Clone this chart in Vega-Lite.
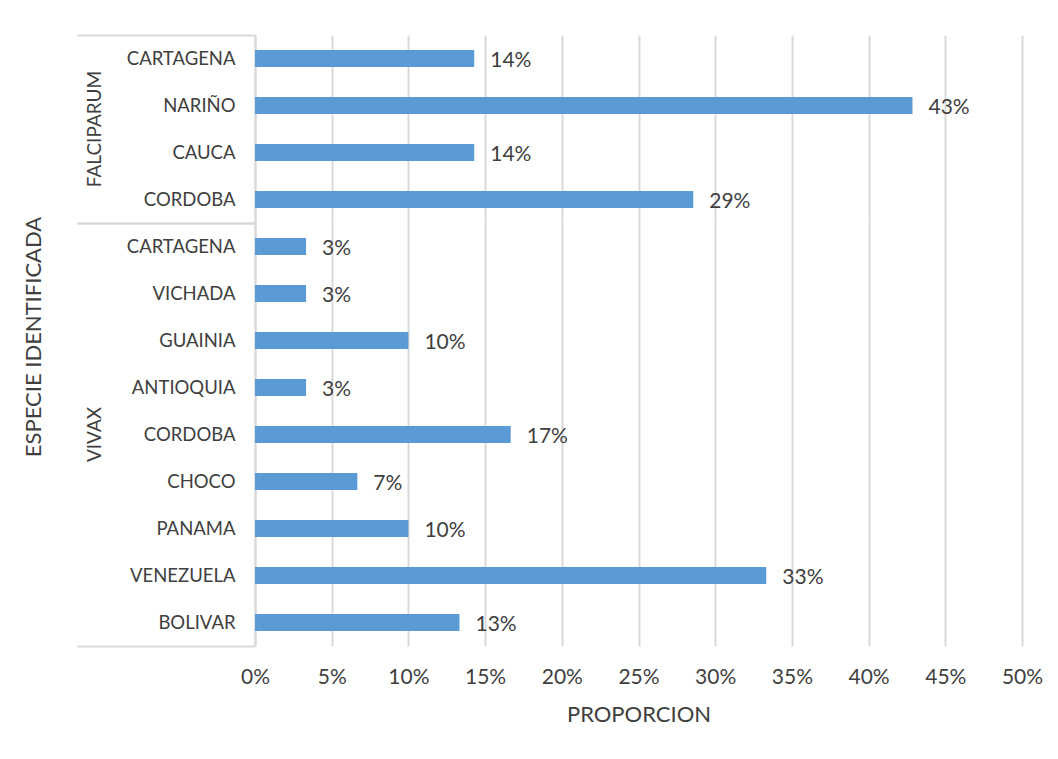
{
  "$schema": "https://vega.github.io/schema/vega-lite/v6.json",
  "padding": {"left": 22, "top": 26, "right": 10, "bottom": 10},
  "background": "white",
  "config": {
    "view": {"stroke": null},
    "font": "Lato"
  },
  "data": {"values": [
    {"especie": "FALCIPARUM", "lugar": "CARTAGENA", "orden": 1, "valor": 0.1429},
    {"especie": "FALCIPARUM", "lugar": "NARIÑO", "orden": 2, "valor": 0.4286},
    {"especie": "FALCIPARUM", "lugar": "CAUCA", "orden": 3, "valor": 0.1429},
    {"especie": "FALCIPARUM", "lugar": "CORDOBA", "orden": 4, "valor": 0.2857},
    {"especie": "VIVAX", "lugar": "CARTAGENA", "orden": 5, "valor": 0.0333},
    {"especie": "VIVAX", "lugar": "VICHADA", "orden": 6, "valor": 0.0333},
    {"especie": "VIVAX", "lugar": "GUAINIA", "orden": 7, "valor": 0.1},
    {"especie": "VIVAX", "lugar": "ANTIOQUIA", "orden": 8, "valor": 0.0333},
    {"especie": "VIVAX", "lugar": "CORDOBA", "orden": 9, "valor": 0.1667},
    {"especie": "VIVAX", "lugar": "CHOCO", "orden": 10, "valor": 0.0667},
    {"especie": "VIVAX", "lugar": "PANAMA", "orden": 11, "valor": 0.1},
    {"especie": "VIVAX", "lugar": "VENEZUELA", "orden": 12, "valor": 0.3333},
    {"especie": "VIVAX", "lugar": "BOLIVAR", "orden": 13, "valor": 0.1333}
  ]},
  "facet": {
    "row": {
      "field": "especie",
      "type": "nominal",
      "sort": ["FALCIPARUM", "VIVAX"],
      "title": "ESPECIE IDENTIFICADA",
      "header": {
        "labelOrient": "left",
        "labelAngle": -90,
        "labelFont": "Lato",
        "labelFontSize": 19,
        "labelColor": "#404040",
        "labelPadding": 141,
        "titleOrient": "left",
        "titleAngle": -90,
        "titleFont": "Lato",
        "titleFontSize": 22,
        "titleFontWeight": "normal",
        "titleColor": "#404040",
        "titlePadding": 8
      }
    }
  },
  "spacing": 0,
  "bounds": "flush",
  "resolve": {"scale": {"y": "independent"}},
  "spec": {
    "width": 767,
    "height": {"step": 47},
    "encoding": {
      "y": {
        "field": "lugar",
        "type": "nominal",
        "sort": {"field": "orden"},
        "title": null,
        "scale": {"paddingInner": 0, "paddingOuter": 0},
        "axis": {
          "labelFont": "Lato",
          "labelFontSize": 18.5,
          "labelColor": "#404040",
          "domainColor": "#d9d9d9",
          "domainWidth": 2,
          "tickBand": "extent",
          "tickSize": 178,
          "tickWidth": 2,
          "tickColor": "#d9d9d9",
          "tickOpacity": {"condition": {"test": "datum.index === -1 || datum.index === 1", "value": 1}, "value": 0},
          "labelPadding": -158,
          "grid": false
        }
      },
      "x": {
        "field": "valor",
        "type": "quantitative",
        "scale": {"domain": [0, 0.5], "nice": false},
        "title": "PROPORCION",
        "axis": {
          "values": [0, 0.05, 0.1, 0.15, 0.2, 0.25, 0.3, 0.35, 0.4, 0.45, 0.5],
          "format": ".0%",
          "domain": false,
          "ticks": false,
          "grid": true,
          "gridColor": "#d9d9d9",
          "gridWidth": 2,
          "labelFlush": false,
          "labelFont": "Lato",
          "labelFontSize": 21,
          "labelColor": "#404040",
          "labelPadding": 20,
          "titleFont": "Lato",
          "titleFontSize": 22,
          "titleFontWeight": "normal",
          "titleColor": "#404040",
          "titlePadding": 17
        }
      }
    },
    "layer": [
      {
        "mark": {"type": "bar", "color": "#5B9BD5", "height": {"band": 0.36}}
      },
      {
        "mark": {"type": "text", "align": "left", "baseline": "middle", "dx": 16, "dy": 2, "font": "Lato", "fontSize": 21, "color": "#404040"},
        "encoding": {
          "text": {"field": "valor", "type": "quantitative", "format": ".0%"}
        }
      }
    ]
  }
}
